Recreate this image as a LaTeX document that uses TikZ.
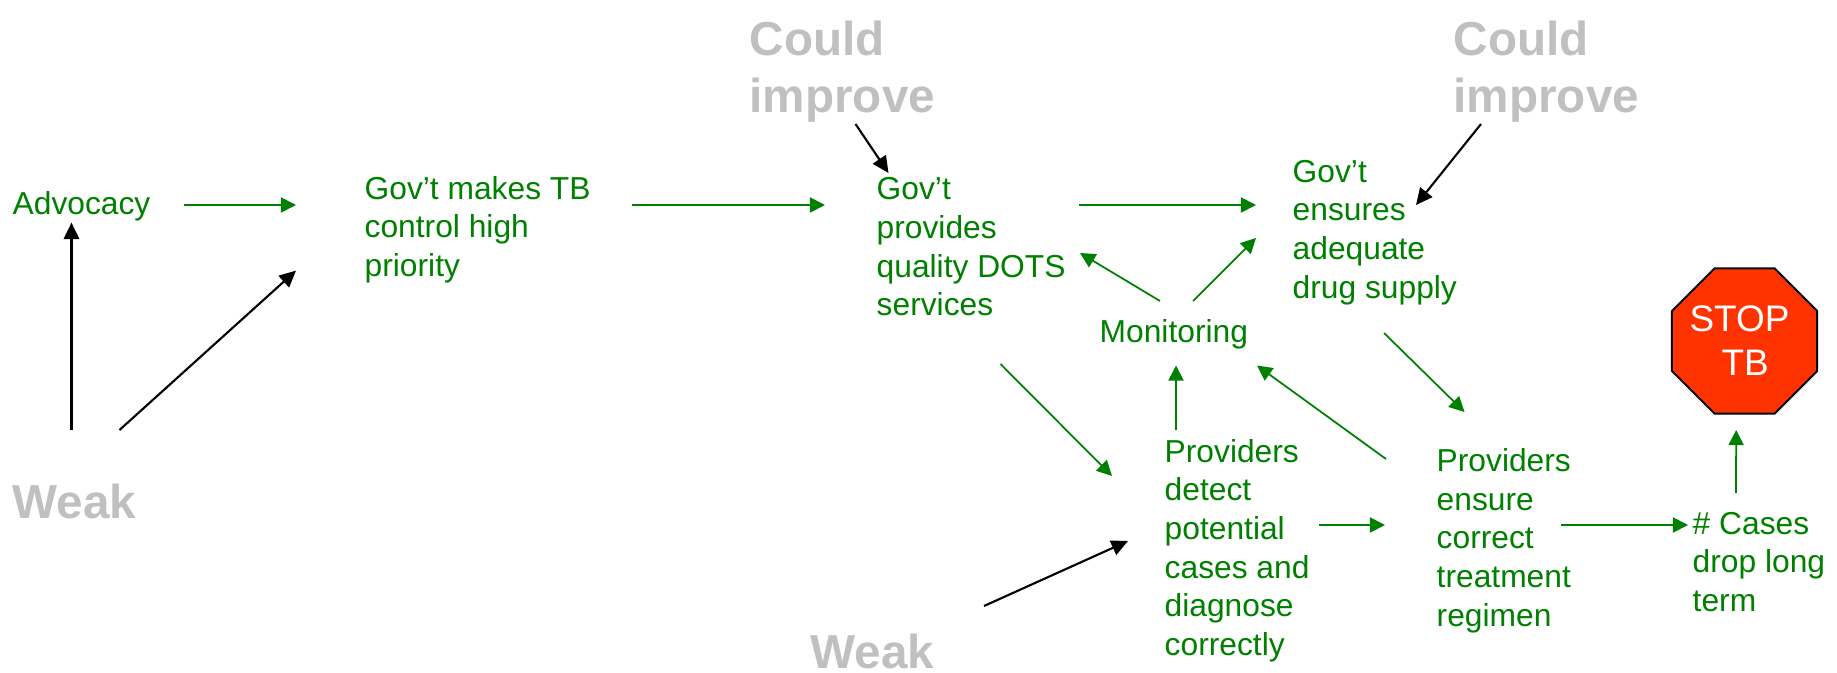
\documentclass[tikz,border=0pt]{standalone}
\usepackage{fontspec}
\setmainfont{Liberation Sans}
\usetikzlibrary{arrows.meta,shapes.geometric}
\definecolor{stepgreen}{RGB}{0,128,0}
\definecolor{notegrey}{RGB}{192,192,192}
\definecolor{stopred}{RGB}{255,51,0}
\begin{document}
\begin{tikzpicture}
  [x=0.01cm,y=-0.01cm,every node/.style={inner sep=0pt,align=left,anchor=west}]
  \tikzstyle{stepnode} = [text=stepgreen,font=\fontsize{9.03}{11}\selectfont]
  \tikzstyle{notenode} = [text=notegrey,font=\fontsize{13.55}{16.2}\selectfont\bfseries]
  \tikzstyle{stopsign} = [regular polygon,regular polygon sides=8,inner sep=-8pt,minimum size=1.57cm,draw=black,line width=0.55pt,fill=stopred,text=white,anchor=center,font=\fontsize{10.5}{12.5}\selectfont]
  \tikzstyle{steparrow} = [stepgreen,line width=0.5pt,-{Triangle[length=4.3pt,width=4.3pt]}]
  \tikzstyle{notearrow} = [black,line width=0.6pt,-{Triangle[length=4.7pt,width=4.4pt]}]
  \useasboundingbox (0,0) rectangle (1837,673);
  \node[stepnode] (advocacy) at (12,206.5) {Advocacy};
  \node[stepnode] (priority) at (364,229.5) {Gov’t makes TB\\control high\\priority};
  \node[stepnode] (dots) at (876,247) {Gov’t\\provides\\quality DOTS\\services};
  \node[stepnode] (supply) at (1292,232.5) {Gov’t\\ensures\\adequate\\drug supply};
  \node[stepnode] (monitoring) at (1099,334.5) {Monitoring};
  \node[stepnode] (detect) at (1164,550.5) {Providers\\detect\\potential\\cases and\\diagnose\\correctly};
  \node[stepnode] (regimen) at (1436,540.5) {Providers\\ensure\\correct\\treatment\\regimen};
  \node[stepnode] (cases) at (1692,562) {\# Cases\\drop long\\term};
  \node[stopsign] (stop) at (1744.5,341) {\mbox{STOP\kern2.85pt}\\\hspace*{9.1pt}TB};
  \node[notenode] (improve1) at (749,71.5) {Could\\improve};
  \node[notenode] (improve2) at (1453,71.5) {Could\\improve};
  \node[notenode] (weak1) at (12,501) {Weak};
  \node[notenode] (weak2) at (810,651) {Weak};
  \foreach \source /\sx /\sy /\dest /\dx /\dy in {advocacy/172/-1.5/priority/-68/-24.5,priority/267.5/-24.5/dots/-51/-42,
    dots/203/-42/supply/-36/-27.5,monitoring/61/-33.5/dots/204/6,monitoring/94/-33.5/supply/-36/5.5,
    supply/92/100.5/regimen/28.5/-128.5,dots/124.5/117/detect/-52/-74.5,detect/12/-120.5/monitoring/77/31,
    regimen/-50/-81.5/monitoring/158/31,detect/155/-25.5/regimen/-51/-15.5,regimen/125/-15.5/cases/-4/-37,
    cases/44/-69/stop/65.2/89}
   \draw[steparrow] ([shift={(\sx,\sy)}]\source.west) -- ([shift={(\dx,\dy)}]\dest.west);
  \foreach \source /\sx /\sy /\dest /\dx /\dy in {weak1/59.5/-71/advocacy/59.5/16.1,weak1/107.5/-71/priority/-68/41.1,
    improve1/106.5/52.5/dots/12.5/-74,improve2/28/52.5/supply/124/-27.5,weak2/174/-45/detect/-36/-9.5}
   \draw[notearrow] ([shift={(\sx,\sy)}]\source.west) -- ([shift={(\dx,\dy)}]\dest.west);
\end{tikzpicture}
\end{document}
